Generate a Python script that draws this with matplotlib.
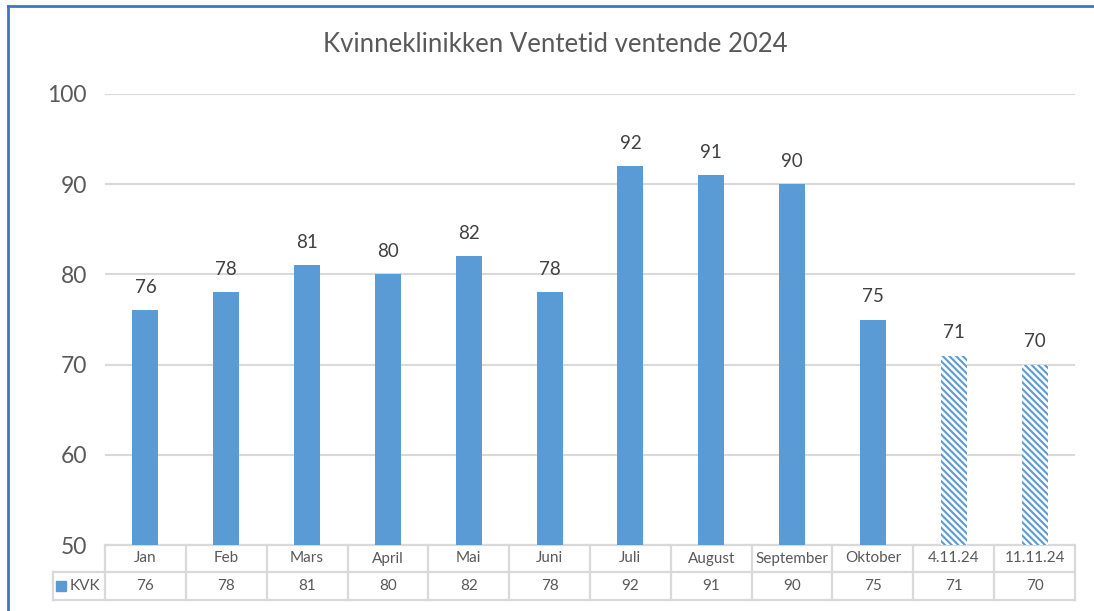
import matplotlib.pyplot as plt
from matplotlib.lines import Line2D

plt.rcParams['font.family'] = ['Lato', 'DejaVu Sans']

categories = ["Jan", "Feb", "Mars", "April", "Mai", "Juni", "Juli", "August",
              "September", "Oktober", "4.11.24", "11.11.24"]
values = [76, 78, 81, 80, 82, 78, 92, 91, 90, 75, 71, 70]
hatched = [False] * 10 + [True, True]
series_name = "KVK"

blue = "#5b9bd5"
grid = "#d9d9d9"
txt = "#595959"

fig = plt.figure(figsize=(10.94, 6.11), dpi=100)
W, H = 1094, 611
ax = fig.add_axes([105 / W, (H - 545) / H, 970 / W, 451 / H])

plt.rcParams['hatch.color'] = blue
plt.rcParams['hatch.linewidth'] = 1.5
for i, v in enumerate(values):
    if hatched[i]:
        ax.bar(i, v - 50, bottom=50, width=0.32, color="white", edgecolor=blue,
               hatch="\\\\\\\\\\", linewidth=0, zorder=3)
    else:
        ax.bar(i, v - 50, bottom=50, width=0.32, color=blue, linewidth=0, zorder=3)
    ax.text(i, v + 1.6, str(v), ha="center", va="bottom", fontsize=13.5, color="#404040")

ax.set_xlim(-0.5, len(categories) - 0.5)
ax.set_ylim(50, 100)
ax.set_yticks([50, 60, 70, 80, 90, 100])
ax.tick_params(axis="y", length=0, labelsize=16.5, labelcolor=txt, pad=13)
ax.set_xticks([])
for s in ax.spines.values():
    s.set_visible(False)
ax.yaxis.grid(True, color=grid, linewidth=1.5, zorder=0)
ax.set_axisbelow(True)

# data table under the axis
tr = ax.get_xaxis_transform()
ah = 451.0
r1 = -27 / ah
r2 = -55 / ah
left = -0.5 - 52 / (970 / 12)
n = len(categories)
lkw = dict(color=grid, linewidth=1.6, transform=tr, clip_on=False, zorder=1)
ax.plot([-0.5, n - 0.5], [0, 0], **lkw)
ax.plot([left, n - 0.5], [r1, r1], **lkw)
ax.plot([left, n - 0.5], [r2, r2], **lkw)
ax.plot([left, left], [r1, r2], **lkw)
for k in range(n + 1):
    ax.plot([k - 0.5, k - 0.5], [0, r2], **lkw)
for i, c in enumerate(categories):
    ax.text(i, r1 / 2, c, ha="center", va="center", fontsize=11, color=txt, transform=tr)
    ax.text(i, (r1 + r2) / 2, str(values[i]), ha="center", va="center", fontsize=11,
            color=txt, transform=tr)
ax.plot([left + 0.1], [(r1 + r2) / 2], marker="s", markersize=7, color=blue,
        transform=tr, clip_on=False, linestyle="none")
ax.text(left + 0.2, (r1 + r2) / 2, series_name, ha="left", va="center", fontsize=11,
        color=txt, transform=tr)

fig.text(555 / W, 1 - 45 / H, "Kvinneklinikken Ventetid ventende 2024", ha="center",
         va="center", fontsize=18.5, color=txt)

# chart frame (top and left edges visible)
fig.add_artist(Line2D([8 / W, 1], [1 - 6 / H, 1 - 6 / H], color="#4472c4", linewidth=2,
                      transform=fig.transFigure))
fig.add_artist(Line2D([8 / W, 8 / W], [0, 1 - 6 / H], color="#4472c4", linewidth=2,
                      transform=fig.transFigure))

fig.savefig("out.png", dpi=100)
